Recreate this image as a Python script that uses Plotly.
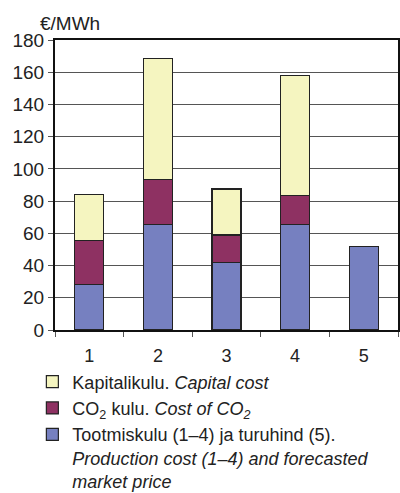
import plotly.graph_objects as go

categories = ["1", "2", "3", "4", "5"]
production = [28, 65.5, 42, 65.5, 52]
co2 = [27.5, 28, 17, 18, None]
capital = [28.5, 75, 28.5, 74.5, None]

names = [
    "Tootmiskulu (1\u20134) ja turuhind (5).<br><i>Production cost (1\u20134) and forecasted</i><br><i>market price</i>",
    "CO<sub>2</sub> kulu. <i>Cost of CO<sub>2</sub></i>",
    "Kapitalikulu. <i>Capital cost</i>",
]
colors = ["#7680C0", "#8E3162", "#F5F5C0"]
series = [production, co2, capital]

fig = go.Figure()
for name, col, vals in zip(names, colors, series):
    fig.add_trace(go.Bar(
        x=categories, y=vals, name=name,
        marker=dict(color=col, line=dict(color="#222222", width=1.2)),
        width=0.42,
    ))

fig.update_layout(
    barmode="stack",
    width=400, height=493,
    margin=dict(l=55, r=2, t=40, b=163, autoexpand=False),
    paper_bgcolor="white", plot_bgcolor="white",
    font=dict(family="Liberation Sans, Arial, sans-serif", size=18, color="#222222"),
    showlegend=True,
    legend=dict(
        traceorder="reversed",
        x=-0.066, y=-0.115, xanchor="left", yanchor="top",
        font=dict(size=18, color="#222222"),
        itemwidth=30,
        tracegroupgap=0,
        valign="top",
    ),
)
fig.add_annotation(text="\u20ac/MWh", xref="paper", yref="paper",
                   x=-0.05, y=1.014, xanchor="left", yanchor="bottom",
                   showarrow=False, font=dict(size=19, color="#222222"))

fig.update_xaxes(
    showline=True, linecolor="#111111", linewidth=2, mirror=True,
    ticks="outside", ticklen=5, tickcolor="#555555", tickson="boundaries",
    ticklabelstandoff=8,
    showgrid=False,
)
fig.update_yaxes(
    range=[0, 180], dtick=20,
    showline=True, linecolor="#111111", linewidth=2, mirror=True,
    ticks="outside", ticklen=5, tickcolor="#555555",
    tickfont=dict(size=19),
    showgrid=True, gridcolor="#555555", gridwidth=1,
    zeroline=False,
)

fig.write_html("out.html", config={"displayModeBar": False},
               post_script="document.body.style.margin='0';")
